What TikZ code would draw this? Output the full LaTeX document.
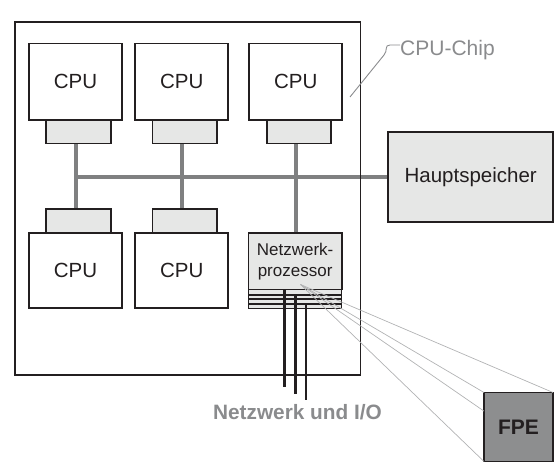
\documentclass[tikz,border=0pt]{standalone}
\usepackage{fontspec}
\setmainfont{Liberation Sans}
\usetikzlibrary{calc,backgrounds}
\definecolor{ink}{HTML}{231F20}
\definecolor{cachefill}{HTML}{E6E7E6}
\definecolor{busgray}{HTML}{7F8081}
\definecolor{labelgray}{HTML}{8A8B8D}
\definecolor{fpefill}{HTML}{8D8E8F}
\definecolor{fangray}{HTML}{B2B3B4}

\begin{document}
\begin{tikzpicture}[x=1pt,y=-1pt,
  box/.style={draw=ink, line width=1.8pt, inner sep=0pt, outer sep=0pt},
  cpubox/.style={box, fill=white, minimum width=93, minimum height=76.5,
    font=\fontsize{20.5}{24}\selectfont, text=ink},
  cachebox/.style={box, fill=cachefill, minimum width=64.5, minimum height=23.5},
  bus/.style={draw=busgray, line width=4pt},
  ioline/.style={draw=ink, line width=2.1pt},
  fanline/.style={draw=fangray, line width=0.7pt},
  graylabel/.style={text=labelgray, inner sep=0pt}]

\useasboundingbox (0,0) rectangle (557,462);

% chip outline
\node[box, minimum width=345.5, minimum height=353, anchor=north west] (chip) at (15,22) {};

% processors, top row
\node[cpubox] (cpuA) at (75.5,81.75) {CPU};
\node[cpubox] (cpuB) at (181.75,81.75) {CPU};
\node[cpubox] (cpuC) at (295.75,81.75) {CPU};
\node[cachebox] (cacheA) at (78.4,131.75) {};
\node[cachebox] (cacheB) at (184.7,131.75) {};
\node[cachebox] (cacheC) at (299,131.75) {};

% processors, bottom row
\node[cachebox, minimum height=24] (cacheD) at (78.4,221.3) {};
\node[cachebox, minimum height=24] (cacheE) at (184.7,221.3) {};
\node[cpubox, minimum height=75] (cpuD) at (75.5,270.8) {CPU};
\node[cpubox, minimum height=75] (cpuE) at (181.75,270.8) {CPU};

% network processor with its port block
\node[box, fill=cachefill, minimum width=93.2, minimum height=56.2,
  font=\fontsize{17}{21}\selectfont, text=ink, align=center] (np) at (295.1,261.4)
  {Netzwerk-\\prozessor};
\node[box, fill=cachefill, line width=1.5pt, minimum width=93.2, minimum height=19,
  anchor=north] (npio) at (np.south) {};
\draw[ink, line width=1.5pt] (npio.west |- 0,295) -- (npio.east |- 0,295);
\draw[ink, line width=1.5pt] (npio.west |- 0,298.8) -- (npio.east |- 0,298.8);
\draw[ink, line width=1.5pt] (npio.west |- 0,304) -- (npio.east |- 0,304);

% main memory
\node[box, fill=cachefill, minimum width=164.7, minimum height=89.4,
  font=\fontsize{20.5}{24}\selectfont, text=ink] (mem) at (470.7,177) {Hauptspeicher};

% shared bus
\begin{scope}[on background layer]
  \draw[bus] (cpuA.center |- cacheA.south) -- (cpuA.center |- cacheD.north);
  \draw[bus] (cpuB.center |- cacheB.south) -- (cpuB.center |- cacheE.north);
  \draw[bus] (cpuC.center |- cacheC.south) -- (cpuC.center |- np.north);
  \draw[bus] (cpuA.center |- mem.west) -- (mem.west);
\end{scope}

% network and I/O lines
\coordinate (ioA) at (284.5,387);
\coordinate (ioB) at (295.5,394);
\coordinate (ioC) at (306,400);
\draw[ioline] (ioA |- np.south) -- (ioA);
\draw[ioline] (ioB |- 0,295) -- (ioB);
\draw[ioline] (ioC |- 0,304) -- (ioC);
\node[graylabel, anchor=base, font=\bfseries\fontsize{20.8}{24}\selectfont] (netio) at (297.5,419)
  {Netzwerk und I/O};

% fast packet engine
\node[box, fill=fpefill, minimum width=69, minimum height=69,
  font=\bfseries\fontsize{21}{24}\selectfont, text=ink] (fpe) at (518.5,427) {FPE};
\coordinate (fan) at (300.5,284.5);
\draw[fanline] (fan) -- (fpe.north east);
\draw[fanline] (fan) -- (fpe.north west);
\draw[fanline] (fan) -- ($(fpe.north west)!0.27!(fpe.south west)$);
\draw[fanline] (fan) -- (fpe.south west);

% chip label with leader
\node[graylabel, anchor=base west, font=\fontsize{21}{24}\selectfont] (chiplabel) at (400,56) {CPU-Chip};
\coordinate (lk) at (390,45);
\coordinate (leadend) at (350,97);
\draw[labelgray, line width=0.9pt] (chiplabel.west |- lk) -- (lk)
  .. controls (384,45) and (388,51) .. (384,55) -- (leadend);
\end{tikzpicture}
\end{document}
